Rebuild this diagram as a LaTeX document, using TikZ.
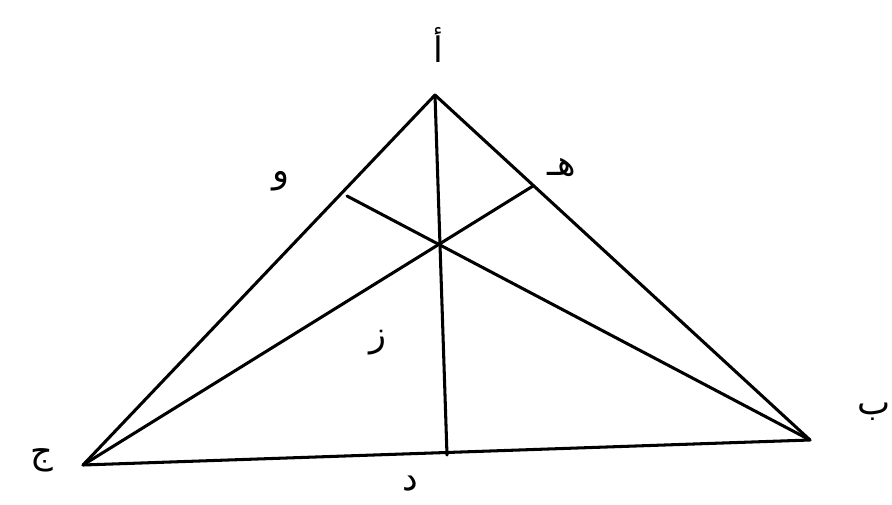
\documentclass[tikz,border=0pt]{standalone}
\usepackage{fontspec}
\newfontfamily\arabicfont[Script=Arabic]{DejaVu Sans}
\TeXXeTstate=1
\usetikzlibrary{positioning}

\begin{document}
\begin{tikzpicture}[
  x=0.03cm,y=-0.03cm,
  edge/.style={line width=2.6pt,line join=round,line cap=round},
  lbl/.style={font=\fontsize{30}{34}\selectfont\arabicfont,inner sep=0pt}
]
  \useasboundingbox (0,0) rectangle (892,505);
  % vertices and feet
  \coordinate (A) at (435,95);
  \coordinate (B) at (810,440);
  \coordinate (C) at (83,465);
  \coordinate (D) at (447,455);
  \coordinate (H) at (533,186);
  \coordinate (W) at (347,196);

  \draw[edge] (A) -- (B) -- (C) -- cycle;
  \draw[edge] (A) -- (D);
  \draw[edge] (B) -- (W);
  \draw[edge] (C) -- (H);

  % letters
  \node[lbl] (la) at (438,45)  {\beginR أ\endR};
  \node[lbl] (lb) at (874,412) {\beginR ب\endR};
  \node[lbl] (lc) at (42,460)  {\beginR ج\endR};
  \node[lbl] (ld) at (410,484) {\beginR د\endR};
  \node[lbl] (lh) at (562,168) {\beginR هـ\endR};
  \node[lbl] (lw) at (281,181) {\beginR و\endR};
  \node[lbl] (lz) at (378,343) {\beginR ز\endR};
\end{tikzpicture}
\end{document}
